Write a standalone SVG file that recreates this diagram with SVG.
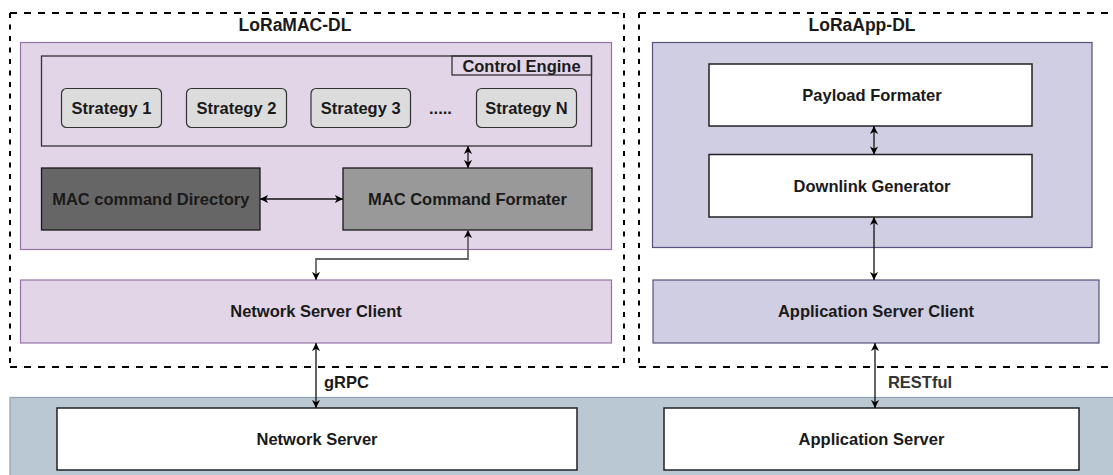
<svg xmlns="http://www.w3.org/2000/svg" width="1113" height="475" viewBox="0 0 1113 475">
<style>
  text { font-family: "Liberation Sans", Arial, sans-serif; font-weight: bold; font-size: 16.5px; fill: #1a1a1a; text-anchor: middle; }
  .title { font-size: 17.5px; }
  .dashh { fill: none; stroke: #000; stroke-width: 2; stroke-dasharray: 7 7; }
  .dashv { fill: none; stroke: #000; stroke-width: 2; stroke-dasharray: 5 6.5; }
  .lpurple { fill: #e1d5e7; stroke: #9673a6; stroke-width: 1.2; }
  .bpurple { fill: #d0cee2; stroke: #56517e; stroke-width: 1.2; }
  .strat { fill: #dcdcdc; stroke: #333; stroke-width: 1.2; }
  .white { fill: #fff; stroke: #222; stroke-width: 1.5; }
  .conn { fill: none; stroke: #111; stroke-width: 1.3; marker-start: url(#ah); marker-end: url(#ah); }
  .conng { fill: none; stroke: #666; stroke-width: 1.8; marker-start: url(#ah); marker-end: url(#ah); }
</style>
<defs>
  <marker id="ah" viewBox="0 0 10 10" refX="9" refY="5" markerWidth="9" markerHeight="9" markerUnits="userSpaceOnUse" orient="auto-start-reverse">
    <path d="M0,0.5 L9,5 L0,9.5 L2.5,5 z" fill="#000"/>
  </marker>
</defs>

<!-- bottom band -->
<g id="server-band">
  <rect x="10" y="397.5" width="1110" height="85" fill="#bac8d3" stroke="#8ea3b5" stroke-width="1.2"/>
</g>

<!-- dashed containers -->
<g id="loramac-dl">
  <line class="dashh" x1="10" y1="13" x2="624" y2="13"/>
  <line class="dashh" x1="10" y1="367" x2="624" y2="367"/>
  <line class="dashv" x1="10" y1="13" x2="10" y2="367"/>
  <line class="dashv" x1="624" y1="13" x2="624" y2="367"/>
  <text class="title" x="295" y="31">LoRaMAC-DL</text>
</g>
<g id="loraapp-dl">
  <line class="dashh" x1="639" y1="13" x2="1113" y2="13"/>
  <line class="dashh" x1="639" y1="367" x2="1113" y2="367"/>
  <line class="dashv" x1="639" y1="13" x2="639" y2="367"/>
  <text class="title" x="862" y="31">LoRaApp-DL</text>
</g>

<g id="mac-container">
  <rect class="lpurple" x="20.5" y="42.5" width="591" height="207"/>
</g>
<g id="control-engine">
  <rect x="41.5" y="56" width="550" height="90" fill="none" stroke="#333" stroke-width="1.3"/>
  <rect x="452" y="56" width="139.5" height="19" fill="none" stroke="#333" stroke-width="1.3"/>
  <text x="521.5" y="72">Control Engine</text>
</g>
<g id="strategy-1"><rect class="strat" x="61.5" y="88.5" width="100" height="39" rx="5"/><text x="111.5" y="114">Strategy 1</text></g>
<g id="strategy-2"><rect class="strat" x="186.5" y="88.5" width="100" height="39" rx="5"/><text x="236.5" y="114">Strategy 2</text></g>
<g id="strategy-3"><rect class="strat" x="311" y="88.5" width="99.5" height="39" rx="5"/><text x="360.75" y="114">Strategy 3</text></g>
<g id="ellipsis"><text x="440.5" y="114">.....</text></g>
<g id="strategy-n"><rect class="strat" x="476.5" y="88.5" width="100" height="39" rx="5"/><text x="526.5" y="114">Strategy N</text></g>

<g id="mac-command-directory">
  <rect x="41.5" y="168" width="218.5" height="62" fill="#666666" stroke="#1a1a1a" stroke-width="1.3"/>
  <text x="150.75" y="205">MAC command Directory</text>
</g>
<g id="mac-command-formater">
  <rect x="343" y="168" width="249" height="62" fill="#999999" stroke="#1a1a1a" stroke-width="1.3"/>
  <text x="467.5" y="205">MAC Command Formater</text>
</g>
<g id="network-server-client">
  <rect class="lpurple" x="20.5" y="280" width="591" height="63"/>
  <text x="316" y="317">Network Server Client</text>
</g>

<g id="app-container">
  <rect class="bpurple" x="652.5" y="42.5" width="439.5" height="205"/>
</g>
<g id="payload-formater">
  <rect class="white" x="709" y="64" width="323" height="62"/>
  <text x="872" y="101">Payload Formater</text>
</g>
<g id="downlink-generator">
  <rect class="white" x="709" y="154.5" width="323" height="62.5"/>
  <text x="872" y="191.5">Downlink Generator</text>
</g>
<g id="application-server-client">
  <rect class="bpurple" x="653" y="280" width="446" height="63"/>
  <text x="876" y="317">Application Server Client</text>
</g>

<g id="network-server">
  <rect class="white" x="57" y="408" width="520" height="62"/>
  <text x="317" y="445">Network Server</text>
</g>
<g id="application-server">
  <rect class="white" x="664" y="408" width="415" height="62"/>
  <text x="871.5" y="445">Application Server</text>
</g>

<g id="connectors">
  <path class="conn" d="M260,199 L343,199"/>
  <path class="conn" d="M468,146 L468,168"/>
  <path class="conng" d="M468,230 L468,259 L316,259 L316,280"/>
  <path class="conn" d="M316,343 L316,408"/>
  <text x="346.5" y="388">gRPC</text>
  <path class="conn" d="M874,126 L874,154.5"/>
  <path class="conn" d="M874,217 L874,280"/>
  <path class="conn" d="M875,343 L875,408"/>
  <text x="920" y="388" style="fill:#333">RESTful</text>
</g>
</svg>
